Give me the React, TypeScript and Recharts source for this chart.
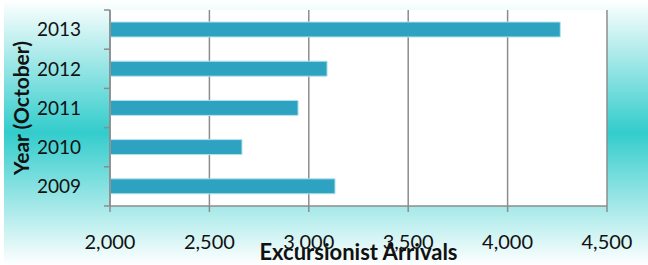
import React from "react";
import { BarChart, Bar, XAxis, YAxis, CartesianGrid, Label } from "recharts";

const years = ["2013", "2012", "2011", "2010", "2009"];
const arrivals = [4265, 3092, 2946, 2664, 3132];
const xTicks = [2000, 2500, 3000, 3500, 4000, 4500];

const data = years.map((year, i) => ({ year, arrivals: arrivals[i] }));

const W = 648;
const H = 265;
const PLOT_TOP = 10;
const PLOT_BOTTOM = 206;
const AXIS_X = 110;
const BAND = (PLOT_BOTTOM - PLOT_TOP) / years.length;

const FONT = "Lato, 'Open Sans', sans-serif";
const GRID = "#8c8c8c";

// category tick: label at band centre, tick marks at band edges
const YearTick = (props: any) => {
  const { x, y, payload, index } = props;
  const cy = payload.coordinate ?? y;
  return (
    <g>
      {index === 0 && (
        <line x1={AXIS_X - 6} x2={AXIS_X} y1={cy - BAND / 2} y2={cy - BAND / 2} stroke={GRID} strokeWidth={1.5} />
      )}
      <line x1={AXIS_X - 6} x2={AXIS_X} y1={cy + BAND / 2} y2={cy + BAND / 2} stroke={GRID} strokeWidth={1.5} />
      <text x={x} y={cy} dy="0.36em" textAnchor="end" fontSize={19} fill="#111" fontFamily={FONT}>
        {payload.value}
      </text>
    </g>
  );
};

export default function App() {
  return (
    <div
      style={{
        position: "absolute",
        left: 0,
        top: 0,
        width: W,
        height: H,
        background:
          "linear-gradient(to right, #fff 0px, #fff 4px, transparent 4px), linear-gradient(to bottom, #ffffff 0%, #33cccc 50%, #ffffff 100%)",
      }}
    >
      <BarChart
        width={W}
        height={H}
        data={data}
        layout="vertical"
        margin={{ top: PLOT_TOP, right: 41, left: 0, bottom: 0 }}
      >
        <CartesianGrid horizontal={false} stroke={GRID} strokeWidth={1.5} fill="#ffffff" />
        <XAxis
          type="number"
          domain={[2000, 4500]}
          ticks={xTicks}
          height={59}
          stroke={GRID}
          strokeWidth={1.5}
          tickSize={6}
          tickMargin={23}
          tick={{ fontSize: 20, fill: "#111", fontFamily: FONT }}
          tickFormatter={(v: number) => v.toLocaleString("en-US")}
          allowDataOverflow
        >
          <Label
            value="Excursionist Arrivals"
            position="insideBottom"
            offset={5}
            style={{ fontSize: 22, fontWeight: 700, fill: "#111", fontFamily: FONT }}
          />
        </XAxis>
        <YAxis
          type="category"
          dataKey="year"
          width={AXIS_X}
          stroke={GRID}
          strokeWidth={1.5}
          tickLine={false}
          tickSize={6}
          tickMargin={23}
          tick={<YearTick />}
        >
          <Label
            value="Year (October)"
            angle={-90}
            position="insideLeft"
            offset={22}
            style={{ fontSize: 21, fontWeight: 700, fill: "#111", fontFamily: FONT, textAnchor: "middle" }}
          />
        </YAxis>
        <Bar dataKey="arrivals" fill="#2ea3c1" stroke="#b8e2ec" strokeWidth={1} barSize={15} isAnimationActive={false} />
      </BarChart>
    </div>
  );
}
